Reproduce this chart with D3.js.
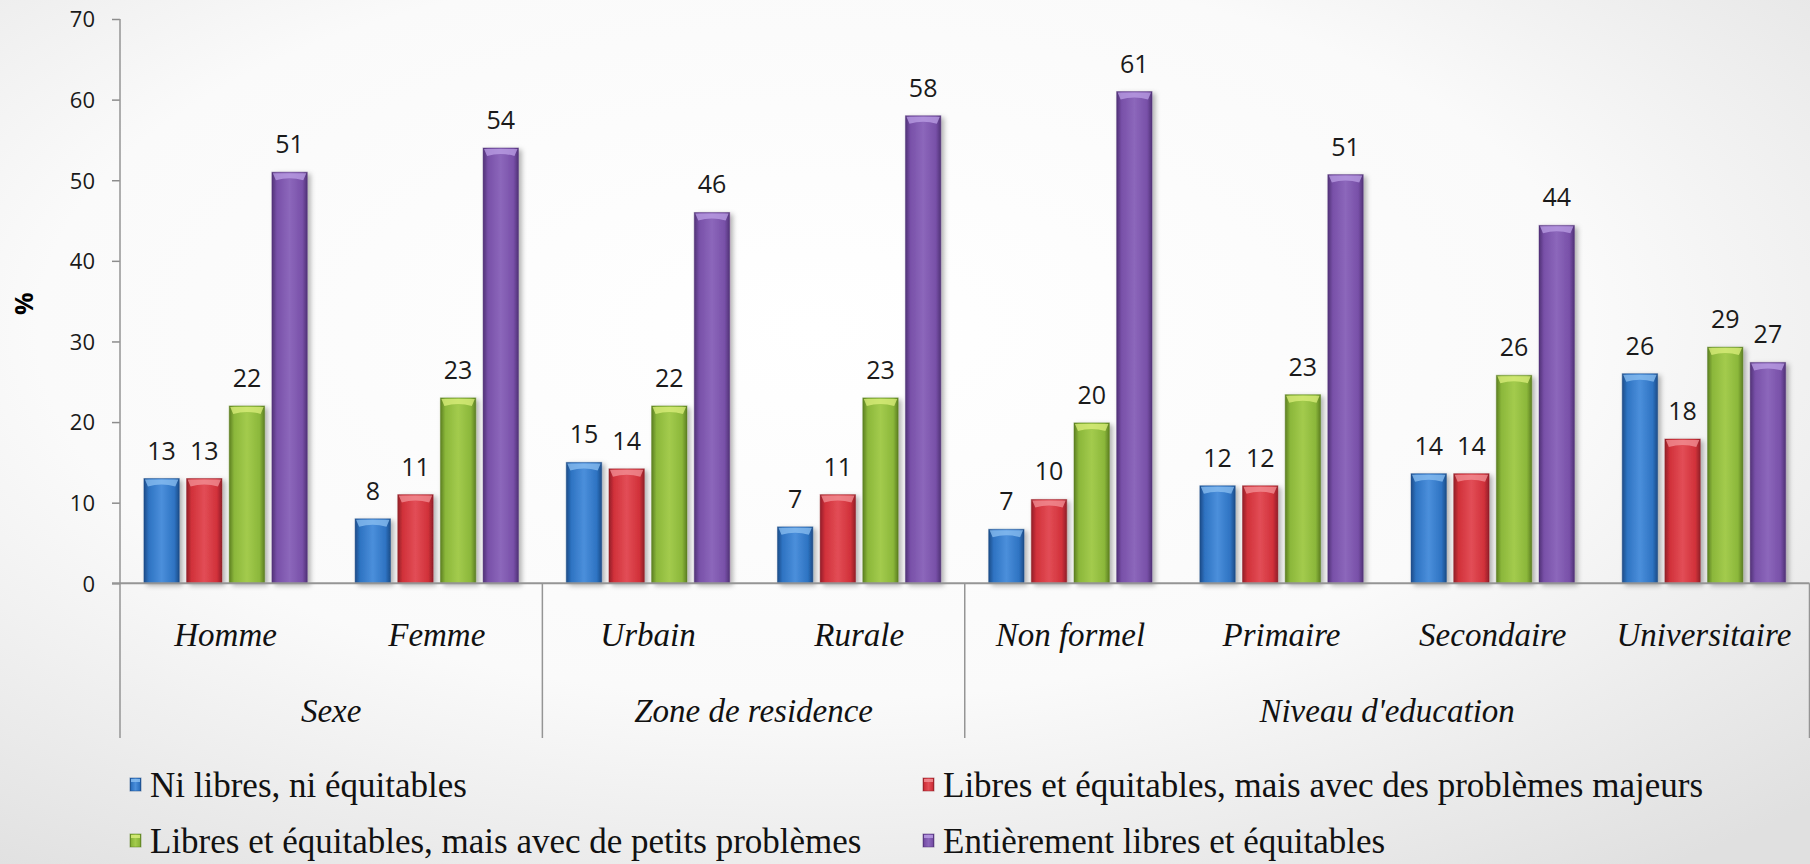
<!DOCTYPE html>
<html lang="fr">

<head>
  <meta charset="UTF-8">
  <title>Perception des élections</title>
  <style>
    body, html {
      margin: 0;
      padding: 0;
      background: #ffffff;
    }
    svg {
      display: block;
    }
    .tick text {
      font-family: "Open Sans", sans-serif;
      font-size: 22px;
      fill: #1a1a1a;
    }
    .value-label {
      font-family: "Open Sans", sans-serif;
      font-size: 25px;
      fill: #1a1a1a;
    }
    .cat-label, .group-label {
      font-family: "Liberation Serif", "Times New Roman", serif;
      font-style: italic;
      font-size: 33px;
      fill: #111;
    }
    .legend-label {
      font-family: "Liberation Serif", "Times New Roman", serif;
      font-size: 35px;
      fill: #111;
    }
  </style>
</head>

<body>
  <script src="https://d3js.org/d3.v7.min.js"></script>
  <script>
    // Data
    const categories = ['Homme', 'Femme', 'Urbain', 'Rurale', 'Non formel', 'Primaire', 'Secondaire', 'Universitaire'];
    const groupNames = ['Sexe', 'Zone de residence', "Niveau d'education"];
    const groupFirst = ['Homme', 'Urbain', 'Non formel'];
    const groupLast = ['Femme', 'Rurale', 'Universitaire'];

    const seriesNames = [
      'Ni libres, ni équitables',
      'Libres et équitables, mais avec des problèmes majeurs',
      'Libres et équitables, mais avec de petits problèmes',
      'Entièrement libres et équitables'
    ];
    const niLibres = [13, 8, 15, 7, 6.7, 12.1, 13.6, 26];
    const problemesMajeurs = [13, 11, 14.2, 11, 10.4, 12.1, 13.6, 17.9];
    const petitsProblemes = [22, 23, 22, 23, 19.9, 23.4, 25.8, 29.3];
    const entierement = [51, 54, 46, 58, 61, 50.7, 44.4, 27.4];
    const seriesValues = [niLibres, problemesMajeurs, petitsProblemes, entierement];

    const yTicks = [0, 10, 20, 30, 40, 50, 60, 70];

    // colours: base, dark edge, light centre, top bevel
    const palette = [
      { base: '#2e73c2', dark: '#1c4c88', light: '#4b8fdb', top: '#8cc0f2' },
      { base: '#d1313a', dark: '#921f28', light: '#e24d56', top: '#f39398' },
      { base: '#8bb73a', dark: '#5c7f22', light: '#a3cb4d', top: '#dcef7c' },
      { base: '#7850a8', dark: '#513277', light: '#8c67bb', top: '#bca0e6' }
    ];

    const width = 1810;
    const height = 864;
    const plotLeft = 120;
    const plotRight = 1809.5;
    const baseY = 583.3;
    const topY = 19;
    const frameBottom = 738;

    const svg = d3.select('body')
      .append('svg')
      .attr('width', width)
      .attr('height', height);

    const defs = svg.append('defs');

    // background gradient
    const bg = defs.append('radialGradient')
      .attr('id', 'bg')
      .attr('cx', '45%').attr('cy', '38%').attr('r', '78%');
    bg.append('stop').attr('offset', '0%').attr('stop-color', '#ffffff');
    bg.append('stop').attr('offset', '55%').attr('stop-color', '#fafafa');
    bg.append('stop').attr('offset', '100%').attr('stop-color', '#e0e0e0');

    svg.append('rect')
      .attr('width', width)
      .attr('height', height)
      .attr('fill', 'url(#bg)');

    // bar gradients
    palette.forEach((c, i) => {
      const g = defs.append('linearGradient')
        .attr('id', 'bar' + i)
        .attr('x1', '0%').attr('x2', '100%').attr('y1', '0%').attr('y2', '0%');
      g.append('stop').attr('offset', '0%').attr('stop-color', c.dark);
      g.append('stop').attr('offset', '14%').attr('stop-color', c.base);
      g.append('stop').attr('offset', '50%').attr('stop-color', c.light);
      g.append('stop').attr('offset', '86%').attr('stop-color', c.base);
      g.append('stop').attr('offset', '100%').attr('stop-color', c.dark);
    });

    const shadow = defs.append('filter')
      .attr('id', 'shadow')
      .attr('x', '-30%').attr('y', '-10%').attr('width', '170%').attr('height', '130%');
    shadow.append('feDropShadow')
      .attr('dx', 3).attr('dy', 2).attr('stdDeviation', 2.5)
      .attr('flood-color', '#000').attr('flood-opacity', 0.3);

    // Scales
    const x0 = d3.scaleBand()
      .domain(categories)
      .range([plotLeft, plotRight]);

    const x1 = d3.scaleBand()
      .domain(d3.range(seriesNames.length))
      .range([23.9, x0.bandwidth() - 23.9])
      .paddingInner(0.17);

    const y = d3.scaleLinear()
      .domain([0, 70])
      .range([baseY, topY]);

    // Y axis
    const yAxis = svg.append('g')
      .attr('transform', `translate(${plotLeft},0)`)
      .call(d3.axisLeft(y).tickValues(yTicks).tickSize(8).tickPadding(17).tickSizeOuter(0));
    yAxis.select('.domain').remove();
    yAxis.selectAll('.tick line').attr('stroke', '#8c8c8c').attr('stroke-width', 1.5);
    yAxis.selectAll('.tick text').attr('dy', '0.36em');

    // axis title
    svg.append('text')
      .attr('transform', `translate(33,${y(40) + 43}) rotate(-90)`)
      .attr('text-anchor', 'middle')
      .style('font-family', '"Open Sans", sans-serif')
      .style('font-weight', 700)
      .style('font-size', '25px')
      .text('%');

    // Bars
    const rows = [];
    categories.forEach((cat, ci) => {
      seriesValues.forEach((vals, si) => {
        rows.push({ cat: cat, s: si, v: vals[ci] });
      });
    });

    const bars = svg.append('g')
      .selectAll('g')
      .data(rows)
      .enter()
      .append('g')
      .attr('transform', d => `translate(${x0(d.cat) + x1(d.s)},0)`);

    const bw = x1.bandwidth();

    bars.append('rect')
      .attr('x', 0)
      .attr('y', d => y(d.v))
      .attr('width', bw)
      .attr('height', d => y(0) - y(d.v))
      .attr('fill', d => `url(#bar${d.s})`)
      .attr('stroke', d => palette[d.s].dark)
      .attr('stroke-opacity', 0.45)
      .attr('stroke-width', 1)
      .attr('filter', 'url(#shadow)');

    // top bevel highlight
    bars.append('path')
      .attr('d', d => {
        const t = y(d.v);
        return `M1,${t + 1} L${bw - 1},${t + 1} L${bw - 4},${t + 8} Q${bw / 2},${t + 4} 4,${t + 8} Z`;
      })
      .attr('fill', d => palette[d.s].top)
      .attr('opacity', 0.75);

    // value labels
    bars.append('text')
      .attr('class', 'value-label')
      .attr('x', bw / 2)
      .attr('y', d => y(d.v) - 19)
      .attr('text-anchor', 'middle')
      .text(d => d3.format('.0f')(d.v));

    // Baseline and category separators
    const axisColor = '#959595';
    svg.append('line')
      .attr('x1', plotLeft - 8).attr('x2', plotRight)
      .attr('y1', y(0)).attr('y2', y(0))
      .attr('stroke', axisColor).attr('stroke-width', 2);

    svg.append('line')
      .attr('x1', plotLeft).attr('x2', plotLeft)
      .attr('y1', y(70)).attr('y2', frameBottom)
      .attr('stroke', axisColor).attr('stroke-width', 1.5);

    const sepX = groupFirst.slice(1).map(c => x0(c)).concat([plotRight]);
    svg.append('g')
      .selectAll('line')
      .data(sepX)
      .enter()
      .append('line')
      .attr('x1', d => d).attr('x2', d => d)
      .attr('y1', y(0)).attr('y2', frameBottom)
      .attr('stroke', axisColor).attr('stroke-width', 1.5);

    // category labels
    svg.append('g')
      .selectAll('text')
      .data(categories)
      .enter()
      .append('text')
      .attr('class', 'cat-label')
      .attr('x', d => x0(d) + x0.bandwidth() / 2)
      .attr('y', 646)
      .attr('text-anchor', 'middle')
      .text(d => d);

    // group labels
    svg.append('g')
      .selectAll('text')
      .data(groupNames)
      .enter()
      .append('text')
      .attr('class', 'group-label')
      .attr('x', (d, i) => (x0(groupFirst[i]) + x0(groupLast[i]) + x0.bandwidth()) / 2)
      .attr('y', 722)
      .attr('text-anchor', 'middle')
      .text(d => d);

    // Legend
    const legendX = [130, 923];
    const legendY = [797, 853];
    const legend = svg.append('g')
      .selectAll('g')
      .data(seriesNames)
      .enter()
      .append('g')
      .attr('transform', (d, i) => `translate(${legendX[i % 2]},${legendY[Math.floor(i / 2)]})`);

    legend.append('rect')
      .attr('x', 0)
      .attr('y', -19)
      .attr('width', 11)
      .attr('height', 13)
      .attr('fill', (d, i) => `url(#bar${i})`)
      .attr('stroke', (d, i) => palette[i].dark)
      .attr('stroke-opacity', 0.5);

    legend.append('rect')
      .attr('x', 1)
      .attr('y', -18)
      .attr('width', 9)
      .attr('height', 3)
      .attr('fill', (d, i) => palette[i].top)
      .attr('opacity', 0.8);

    legend.append('text')
      .attr('class', 'legend-label')
      .attr('x', 20)
      .attr('y', 0)
      .text(d => d);
  </script>
</body>

</html>
